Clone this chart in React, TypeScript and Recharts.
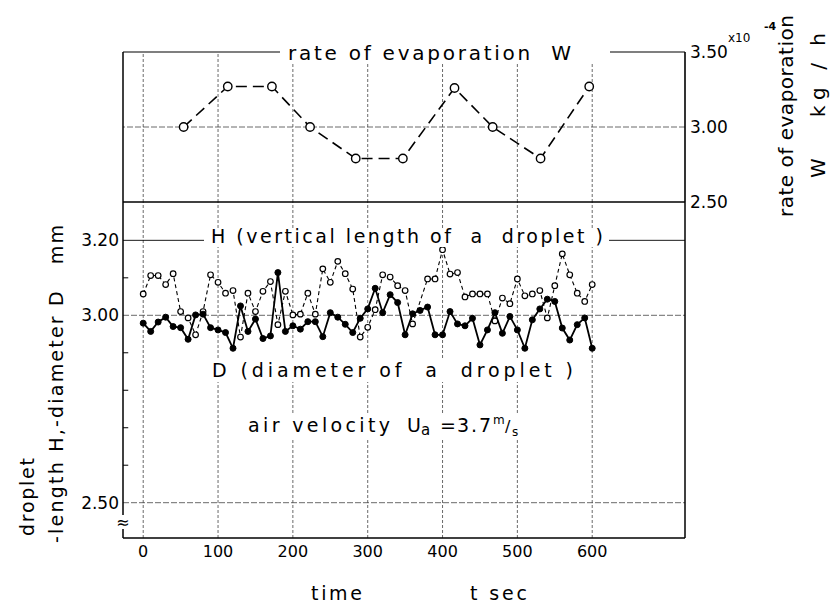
import React from 'react';
import { LineChart, Line, XAxis, YAxis, ReferenceLine } from 'recharts';

// ---- data ----
const times = [
  0, 10, 20, 30, 40, 50, 60, 70, 80, 90,
  100, 110, 120, 130, 140, 150, 160, 170, 180, 190,
  200, 210, 220, 230, 240, 250, 260, 270, 280, 290,
  300, 310, 320, 330, 340, 350, 360, 370, 380, 390,
  400, 410, 420, 430, 440, 450, 460, 470, 480, 490,
  500, 510, 520, 530, 540, 550, 560, 570, 580, 590, 600,
];
// H: vertical length of a droplet (mm)
const hValues: (number | null)[] = [
  3.057, 3.106, 3.106, 3.082, 3.111, 3.01, 2.993, 2.948, 3.01, 3.108,
  3.088, 3.059, 3.066, 2.942, 3.059, 3.01, 3.064, 3.09, 2.975, 3.064,
  3.001, 3.003, 3.059, 3.003, 3.124, 3.088, 3.144, 3.111, 3.07, 2.942,
  2.968, 3.015, 3.108, 3.102, 3.079, 3.066, 2.977, null, 3.097, 3.097,
  3.175, 3.11, 3.114, 3.049, 3.057, 3.057, 3.057, 2.985, 3.046, 3.031,
  3.097, 3.052, 3.057, 3.066, 2.993, 3.079, 3.164, 3.108, 3.059, 3.037, 3.082,
];
// D: diameter of a droplet (mm)
const dValues = [
  2.979, 2.957, 2.982, 2.995, 2.97, 2.967, 2.936, 3.001, 3.003, 2.967,
  2.961, 2.954, 2.912, 3.025, 2.957, 2.99, 2.938, 2.945, 3.114, 2.957,
  2.972, 2.963, 2.983, 2.983, 2.943, 3.007, 2.995, 2.976, 2.954, 2.992,
  3.017, 3.072, 3.007, 3.055, 3.034, 2.948, 3.004, 3.013, 3.022, 2.948,
  2.948, 3.01, 2.977, 2.972, 2.992, 2.921, 2.961, 3.007, 2.952, 2.997,
  2.961, 2.912, 2.988, 3.017, 3.043, 3.037, 2.966, 2.934, 2.975, 2.993, 2.912,
];
// W: rate of evaporation (x10^-4 kg/h)
const wTimes = [54, 113, 172, 223, 284, 347, 416, 467, 531, 596];
const wValues = [3.0, 3.27, 3.27, 3.0, 2.79, 2.79, 3.26, 3.0, 2.79, 3.27];

const xTicks = [0, 100, 200, 300, 400, 500, 600];
const leftTicks = [2.5, 2.6, 2.7, 2.8, 2.9, 3.0, 3.1, 3.2];
const leftLabeled = [2.5, 3.0, 3.2];
const minorTicks = [2.6, 2.7, 2.8, 2.9, 3.1];
const rightTicks = [2.5, 3.0, 3.5];

const X_DOMAIN: [number, number] = [-27, 724];
const DH_DOMAIN: [number, number] = [2.4058, 3.3023];
const W_DOMAIN: [number, number] = [2.5, 3.5];

const dhData = times.map((t, i) => ({ t, H: hValues[i], D: dValues[i] }));
const wData = wTimes.map((t, i) => ({ t, W: wValues[i] }));

const FONT = '"DejaVu Sans", "Liberation Sans", sans-serif';
const GRID = { stroke: '#444', strokeWidth: 0.8, strokeDasharray: '3 2' };
const BORDER = { stroke: '#000', strokeWidth: 1.5 };

const W = 832;
const H = 609;

function TopChart() {
  return (
    <LineChart
      width={W}
      height={215}
      data={wData}
      margin={{ top: 52, right: 87, left: 123, bottom: 13 }}
    >
      <XAxis type="number" dataKey="t" domain={X_DOMAIN} allowDataOverflow hide />
      <YAxis
        orientation="right"
        type="number"
        domain={W_DOMAIN}
        allowDataOverflow
        ticks={rightTicks}
        interval={0}
        width={60}
        tickLine={false}
        tickSize={0}
        tickMargin={5}
        axisLine={{ stroke: '#000', strokeWidth: 1.6 }}
        tickFormatter={(v: number) => v.toFixed(2)}
        tick={{ fill: '#000', fontSize: 17, fontFamily: FONT }}
      />
      {xTicks.map((x) => (
        <ReferenceLine key={'gx' + x} x={x} {...GRID} />
      ))}
      <ReferenceLine y={3.0} {...GRID} strokeDasharray="6 2" />
      <ReferenceLine x={X_DOMAIN[0]} {...BORDER} />
      <ReferenceLine y={3.5} {...BORDER} strokeWidth={1.2} />
      <ReferenceLine y={2.5} {...BORDER} />
      <Line
        type="linear"
        dataKey="W"
        stroke="#000"
        strokeWidth={1.6}
        strokeDasharray="11 6"
        dot={{ r: 4.2, fill: '#fff', stroke: '#000', strokeWidth: 1.4, strokeDasharray: 'none' }}
        isAnimationActive={false}
      />
    </LineChart>
  );
}

function BottomChart() {
  return (
    <LineChart
      width={W}
      height={H}
      data={dhData}
      margin={{ top: 202, right: 147, left: 73, bottom: 41 }}
    >
      <XAxis
        type="number"
        dataKey="t"
        domain={X_DOMAIN}
        allowDataOverflow
        ticks={xTicks}
        interval={0}
        height={30}
        tickLine={false}
        tickSize={0}
        tickMargin={8}
        axisLine={{ stroke: '#000', strokeWidth: 1.5 }}
        tick={{ fill: '#000', fontSize: 16, fontFamily: FONT }}
      />
      <YAxis
        type="number"
        domain={DH_DOMAIN}
        allowDataOverflow
        ticks={leftTicks}
        interval={0}
        width={50}
        tickLine={false}
        tickSize={0}
        tickMargin={4}
        axisLine={{ stroke: '#000', strokeWidth: 1.5 }}
        tickFormatter={(v: number) => (leftLabeled.includes(v) ? v.toFixed(2) : '')}
        tick={{ fill: '#000', fontSize: 17, fontFamily: FONT }}
      />
      {xTicks.map((x) => (
        <ReferenceLine key={'gx' + x} x={x} {...GRID} />
      ))}
      <ReferenceLine y={3.0} {...GRID} strokeDasharray="6 2" />
      <ReferenceLine y={2.5} {...GRID} strokeDasharray="6 2" />
      <ReferenceLine y={3.2} stroke="#000" strokeWidth={0.9} />
      {minorTicks.map((v) => (
        <ReferenceLine
          key={'mt' + v}
          segment={[
            { x: X_DOMAIN[0], y: v },
            { x: X_DOMAIN[0] + 7, y: v },
          ]}
          stroke="#000"
          strokeWidth={1}
        />
      ))}
      <ReferenceLine x={X_DOMAIN[1]} {...BORDER} />
      <Line
        type="linear"
        dataKey="H"
        stroke="#000"
        strokeWidth={1.1}
        strokeDasharray="4 3"
        connectNulls
        dot={{ r: 2.8, fill: '#fff', stroke: '#000', strokeWidth: 1.2, strokeDasharray: 'none' }}
        isAnimationActive={false}
      />
      <Line
        type="linear"
        dataKey="D"
        stroke="#000"
        strokeWidth={1.8}
        dot={{ r: 3, fill: '#000', stroke: '#000', strokeWidth: 1 }}
        isAnimationActive={false}
      />
    </LineChart>
  );
}

const txt = { fontFamily: FONT, fill: '#000' } as const;
const pre = { whiteSpace: 'pre' } as React.CSSProperties;

function Overlay() {
  return (
    <svg width={W} height={H} style={{ position: 'absolute', left: 0, top: 0, pointerEvents: 'none' }}>
      {/* top panel title on the upper border */}
      <rect x={280} y={42} width={330} height={22} fill="#fff" />
      <text x={288} y={60} fontSize={20} textLength={283} lengthAdjust="spacing" style={pre} {...txt}>
        rate of evaporation  W
      </text>

      {/* right axis unit and label */}
      <text x={728} y={42} fontSize={12} {...txt}>x10</text>
      <text x={764} y={30} fontSize={11} fontWeight="bold" {...txt}>-4</text>
      <text transform="translate(793,217) rotate(-90)" fontSize={20} textLength={202} lengthAdjust="spacing" {...txt}>
        rate of evaporation
      </text>
      <text transform="translate(825,178) rotate(-90)" fontSize={20} textLength={145} lengthAdjust="spacing" style={pre} {...txt}>
        W   kg / h
      </text>

      {/* H label on the 3.20 line */}
      <rect x={204} y={228} width={405} height={19} fill="#fff" />
      <text x={211} y={243} fontSize={19} textLength={392} lengthAdjust="spacing" style={pre} {...txt}>
        H (vertical length of  a  droplet )
      </text>

      {/* D label */}
      <rect x={207} y={360} width={370} height={22} fill="#fff" />
      <text x={212} y={377} fontSize={19} textLength={361} lengthAdjust="spacing" style={pre} {...txt}>
        D (diameter of  a  droplet )
      </text>

      {/* air velocity */}
      <rect x={243} y={413} width={282} height={25} fill="#fff" />
      <text x={248} y={432} fontSize={19} textLength={142} lengthAdjust="spacing" {...txt}>air velocity</text>
      <text x={407} y={432} fontSize={19} {...txt}>U</text>
      <text x={421} y={435} fontSize={15} {...txt}>a</text>
      <text x={440} y={432} fontSize={19} {...txt}>=</text>
      <text x={457} y={432} fontSize={19} textLength={34} lengthAdjust="spacing" {...txt}>3.7</text>
      <text x={493} y={424} fontSize={12} {...txt}>m</text>
      <text x={505} y={432} fontSize={16} {...txt}>/</text>
      <text x={512} y={436} fontSize={12} {...txt}>s</text>

      {/* left axis label */}
      <text transform="translate(34,536) rotate(-90)" fontSize={19} textLength={78} lengthAdjust="spacing" {...txt}>
        droplet
      </text>
      <text transform="translate(63,543) rotate(-90)" fontSize={19} textLength={318} lengthAdjust="spacing" style={pre} {...txt}>
        -length H,-diameter D   mm
      </text>

      {/* axis break */}
      <rect x={118} y={515} width={10} height={14} fill="#fff" />
      <text x={123} y={528} fontSize={16} textAnchor="middle" {...txt}>≈</text>

      {/* x axis title */}
      <text x={311} y={600} fontSize={19} textLength={51} lengthAdjust="spacing" {...txt}>time</text>
      <text x={470} y={600} fontSize={19} textLength={57} lengthAdjust="spacing" style={pre} {...txt}>t sec</text>
    </svg>
  );
}

export default function App() {
  return (
    <div style={{ position: 'absolute', left: 0, top: 0, width: W, height: H, background: '#fff', overflow: 'hidden' }}>
      <div style={{ position: 'absolute', left: 0, top: 0 }}>
        <BottomChart />
      </div>
      <div style={{ position: 'absolute', left: 0, top: 0 }}>
        <TopChart />
      </div>
      <Overlay />
    </div>
  );
}
